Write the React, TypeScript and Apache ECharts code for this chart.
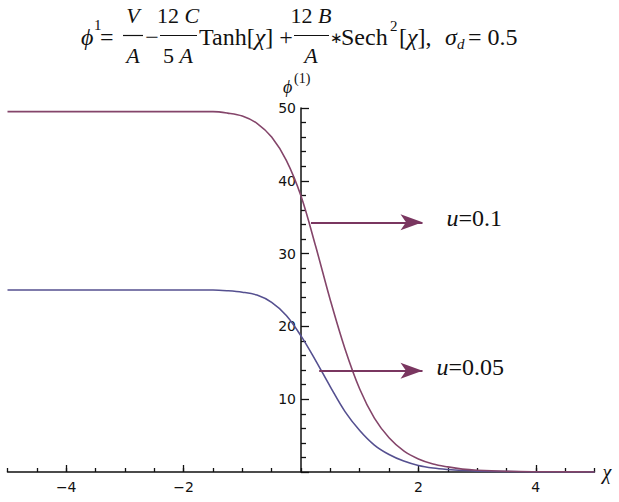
import React, { useEffect, useRef } from "react";
import * as echarts from "echarts";

// ---- data ----
const chi = [-5, -4.5, -4, -3.5, -3, -2.5, -2.25, -2, -1.75, -1.5, -1.25, -1, -0.75, -0.5, -0.25, 0, 0.25, 0.5, 0.75, 1, 1.25, 1.5, 1.75, 2, 2.25, 2.5, 2.75, 3, 3.5, 4, 4.5, 5];
const phiU01 = [49.5, 49.5, 49.5, 49.5, 49.5, 49.5, 49.5, 49.5, 49.5, 49.5, 49.3, 48.9, 47.9, 46.0, 42.8, 37.9, 31.0, 23.6, 16.9, 11.4, 7.4, 4.7, 2.9, 1.8, 1.1, 0.7, 0.4, 0.25, 0.1, 0.04, 0.02, 0.01];
const phiU005 = [25, 25, 25, 25, 25, 25, 25, 25, 25, 25, 24.9, 24.7, 24.3, 23.3, 21.5, 18.7, 15.3, 11.7, 8.3, 5.7, 3.7, 2.4, 1.5, 0.9, 0.55, 0.34, 0.2, 0.12, 0.05, 0.02, 0.01, 0];

const seriesNames = ["u=0.1", "u=0.05"];
const arrowY = [34.3, 13.9];
const arrowStart = [0.17, 0.31];
const arrowEnd = [2.07, 2.07];
const xLabelValues = [-4, -2, 2, 4];
const xMajorTicks = [-4, -2, 2, 4];

const serif = "'Liberation Serif','Times New Roman',serif";
const sans = "'DejaVu Sans',Verdana,sans-serif";
const TF = 24;
const FF = 22;

const RED = "#84456a";
const BLUE = "#555090";
const ARROW = "#7a3660";

function txt(x: number, y: number, text: string, opts: any = {}) {
  const size = opts.size ?? TF;
  return {
    type: "text",
    x,
    y,
    silent: true,
    style: {
      text,
      fill: "#111",
      fontFamily: serif,
      fontSize: size,
      fontStyle: opts.italic ? "italic" : "normal",
      align: opts.align ?? "left",
      verticalAlign: "middle",
      rich: {
        i: { fontFamily: serif, fontSize: size, fontStyle: "italic", fill: "#111" },
        r: { fontFamily: serif, fontSize: size, fill: "#111" },
      },
    },
  };
}
function bar(x1: number, x2: number, y: number) {
  return { type: "line", silent: true, shape: { x1, y1: y, x2, y2: y }, style: { stroke: "#111", lineWidth: 1.2 } };
}

const numY = 15;
const denY = 55;
const barY = 35.5;
const lineY = 37;

const graphicEls: any[] = [
  txt(81, lineY, "ϕ", { italic: true }),
  txt(94, 25, "1", { size: 15 }),
  txt(100, lineY, "="),
  txt(133, numY, "V", { italic: true, align: "center", size: FF }),
  bar(123, 143, barY),
  txt(133, denY, "A", { italic: true, align: "center", size: FF }),
  txt(152, lineY, "−", { align: "center" }),
  txt(178, numY, "{r|12 }{i|C}", { align: "center", size: FF }),
  bar(160, 197, barY),
  txt(178, denY, "{r|5 }{i|A}", { align: "center", size: FF }),
  txt(199, lineY, "{r|Tanh[}{i|χ}{r|]}"),
  txt(286, lineY, "+", { align: "center" }),
  txt(311, numY, "{r|12 }{i|B}", { align: "center", size: FF }),
  bar(294, 329, barY),
  txt(336, lineY + 1, "∗", { size: 15, align: "center" }),
  txt(311, denY, "A", { italic: true, align: "center", size: FF }),
  txt(341, lineY, "Sech"),
  txt(390, 26, "2", { size: 15 }),
  txt(399, lineY, "{r|[}{i|χ}{r|],}"),
  txt(445, lineY, "σ", { italic: true }),
  txt(457, 44, "d", { italic: true, size: 15 }),
  txt(468, lineY, "= 0.5"),
  txt(283, 87, "ϕ", { italic: true, size: 18 }),
  txt(294, 78, "(1)", { size: 14 }),
];

function markArrow(i: number) {
  return {
    silent: true,
    symbol: ["none", "arrow"],
    symbolSize: [12, 22],
    lineStyle: { color: ARROW, width: 2, type: "solid" },
    label: {
      show: true,
      position: "end",
      distance: i === 0 ? 24 : 14,
      offset: [0, -4],
      formatter: "{i|u}{r|=" + seriesNames[i].split("=")[1] + "}",
      rich: {
        i: { fontFamily: serif, fontSize: 24, fontStyle: "italic", color: "#111" },
        r: { fontFamily: serif, fontSize: 24, color: "#111" },
      },
    },
    data: [[{ coord: [arrowStart[i], arrowY[i]] }, { coord: [arrowEnd[i], arrowY[i]] }]],
  };
}

const GRID_LEFT = 7.5;
const GRID_RIGHT = 24.5;
const W = 619;

export default function App() {
  const ref = useRef<HTMLDivElement>(null);
  useEffect(() => {
    const chart = echarts.init(ref.current!, null, { renderer: "svg" });
    const axisColor = "#111";
    const gridW = W - GRID_LEFT - GRID_RIGHT;
    const zeroOffset = -(gridW / 2); // y axis sits at x = 0 (middle of -5..5)
    chart.setOption({
      animation: false,
      backgroundColor: "#fff",
      grid: { left: GRID_LEFT, right: GRID_RIGHT, top: 108, bottom: 30, containLabel: false, outerBoundsMode: "none" },
      xAxis: [
        {
          type: "value",
          min: -5,
          max: 5,
          interval: 0.5,
          name: "χ",
          nameLocation: "end",
          nameGap: 8,
          nameTextStyle: { fontFamily: serif, fontStyle: "italic", fontSize: 20, color: "#111" },
          axisLine: { show: true, onZero: true, lineStyle: { color: axisColor, width: 1.5 } },
          axisTick: { show: true, inside: true, length: 4, lineStyle: { color: axisColor, width: 1.3 } },
          axisLabel: {
            margin: 8,
            fontFamily: sans,
            fontSize: 14,
            color: "#111",
            formatter: (v: number) => (xLabelValues.includes(v) ? (v < 0 ? "−" + Math.abs(v) : String(v)) : ""),
          },
          splitLine: { show: false },
        },
        {
          type: "value",
          min: -5,
          max: 5,
          position: "bottom",
          axisLine: { show: false },
          axisTick: { show: true, inside: true, length: 7, customValues: xMajorTicks, lineStyle: { color: axisColor, width: 1.3 } },
          axisLabel: { show: false },
          splitLine: { show: false },
        },
      ],
      yAxis: {
        type: "value",
        min: 0,
        max: 50,
        interval: 10,
        position: "left",
        offset: zeroOffset,
        axisLine: { show: true, onZero: false, lineStyle: { color: axisColor, width: 1.5 } },
        axisTick: { show: true, inside: true, length: 8, lineStyle: { color: axisColor, width: 1.3 } },
        minorTick: { show: true, splitNumber: 5, length: 5, lineStyle: { color: axisColor, width: 1.3 } },
        axisLabel: { margin: 5, fontFamily: sans, fontSize: 14, color: "#111", showMinLabel: false },
        splitLine: { show: false },
      },
      graphic: graphicEls,
      series: [
        {
          name: seriesNames[1],
          type: "line",
          xAxisIndex: 0,
          data: chi.map((x, i) => [x, phiU005[i]]),
          showSymbol: false,
          smooth: 0.35,
          lineStyle: { color: BLUE, width: 1.6 },
          markLine: markArrow(1),
          z: 2,
        },
        {
          name: seriesNames[0],
          type: "line",
          xAxisIndex: 0,
          data: chi.map((x, i) => [x, phiU01[i]]),
          showSymbol: false,
          smooth: 0.35,
          lineStyle: { color: RED, width: 1.6 },
          markLine: markArrow(0),
          z: 3,
        },
      ],
    });
    return () => chart.dispose();
  }, []);
  return (
    <div
      ref={ref}
      style={{ position: "absolute", left: 0, top: 0, width: 619, height: 502, background: "#fff" }}
    />
  );
}
